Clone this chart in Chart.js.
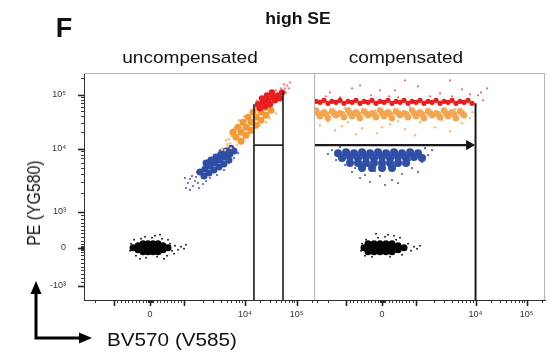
<!DOCTYPE html>
<html><head><meta charset="utf-8">
<script src="https://cdn.jsdelivr.net/npm/chart.js@4.4.1/dist/chart.umd.min.js"></script>
<style>
html,body{margin:0;padding:0;background:#fff;}
#wrap{position:relative;width:552px;height:354px;overflow:hidden;font-family:"Liberation Sans",Arial,sans-serif;color:#111;}
canvas{position:absolute;top:0;}
#c1{left:0;} #c2{left:314px;}
.t{position:absolute;white-space:nowrap;line-height:1;}
svg{position:absolute;left:0;top:0;}
</style></head><body><div id="wrap">
<svg width="552" height="354">
<path d="M36 339 V292 M34.5 338 H80" stroke="#000" stroke-width="3" fill="none"/>
<polygon points="36,281 30.5,294 41.5,294" fill="#000"/>
<polygon points="92,338 79,332.5 79,343.5" fill="#000"/>
</svg>
<canvas id="c1" width="314" height="354"></canvas>
<canvas id="c2" width="238" height="354"></canvas>
<div class="t" style="left:64px;top:28px;font-size:27px;font-weight:bold;transform:translate(-50%,-50%)">F</div>
<div class="t" style="left:298px;top:19px;font-size:16px;font-weight:bold;transform:translate(-50%,-50%) scaleX(1.1)">high SE</div>
<div class="t" style="left:190px;top:57px;font-size:17px;transform:translate(-50%,-50%) scaleX(1.12)">uncompensated</div>
<div class="t" style="left:406px;top:57px;font-size:17px;transform:translate(-50%,-50%) scaleX(1.12)">compensated</div>
<div class="t" style="left:172px;top:340px;font-size:18px;transform:translate(-50%,-50%) scaleX(1.15)">BV570 (V585)</div>
<div class="t" style="left:34px;top:203px;font-size:18px;transform:translate(-50%,-50%) rotate(-90deg) scaleX(0.88)">PE (YG580)</div>
</div>
<script>
// ---------- tick values and labels ----------
const TICK_VALUES = [-3000,-2000,-1000,-900,-800,-700,-600,-500,-400,-300,-200,-100,-50,-25,0,25,50,100,200,300,400,500,600,700,800,900,1000,2000,3000,4000,5000,6000,7000,8000,9000,10000,20000,30000,40000,50000,60000,70000,80000,90000,100000,200000];
const MAJOR_TICKS = [-1000, 0, 1000, 10000, 100000];
const X_TICK_LABELS = ['', '0', '', '10\u2074', '10\u2075'];
const Y_TICK_LABELS = ['-10\u00b3', '0', '10\u00b3', '10\u2074', '10\u2075'];

// ---------- uncompensated panel (BV570, PE) ----------
const LEFT_NEG_CORE = [[-469,0],[-331,55],[-331,-52],[-193,110],[-193,0],[-193,-105],[-55,110],[-55,0],[-55,-105],[87,110],[87,0],[87,-105],[232,110],[232,0],[232,-105],[377,55],[377,-52],[522,0]];
const LEFT_NEG_SPARSE = [[-525,110],[-552,-79],[-442,221],[-387,-210],[-249,249],[-110,-263],[58,276],[203,-237],[348,249],[493,-210],[580,110],[638,-79],[725,55],[812,-52],[899,28],[986,-26],[290,359],[145,331],[-138,304],[522,221],[696,-158],[-276,-289],[406,-289],[1058,83]];
const LEFT_BLUE_CORE = [[1806,4246],[2185,4737],[2644,5285],[3200,5894],[3872,6570],[4686,7327],[5670,8180],[6607,9120],[2103,3674],[2545,4096],[3076,4570],[3728,5093],[4508,5675],[5455,6570],[2270,5894],[2746,6570],[3322,7327],[4023,8180],[4870,9120],[5890,10190]];
const LEFT_BLUE_SPARSE = [[1143,2849],[1058,2374],[1233,3294],[1383,2555],[1493,3062],[1331,3674],[1673,2849],[1019,3418],[1610,4246],[1233,2210],[1738,2374],[1550,3541],[7130,9454],[7690,8470],[6607,7065],[5455,5894],[4508,4570],[3453,3810],[2644,3418],[2270,3062],[2025,2746],[3872,9454],[3076,7880],[2449,6570],[5670,10190],[4686,9120],[6120,11090]];
const LEFT_ORANGE_CORE = [[7130,16240],[8630,20080],[10510,24830],[13140,30700],[16400,37950],[20480,46900],[25590,57970],[6360,20080],[7690,24830],[9316,30700],[11500,37950],[14360,46900],[17920,57970],[8630,13720],[10510,17700],[13140,21900],[16400,27000],[20480,33400],[25590,41300],[31980,51000]];
const LEFT_ORANGE_SPARSE = [[4686,9454],[5257,11090],[4180,10190],[5670,12610],[4870,14300],[6120,16950],[5455,14930],[6863,20960],[7411,11600],[9680,15580],[12020,19260],[15000,23800],[19590,27000],[25590,30700],[30560,36370],[5890,10190],[5058,12080],[6607,23800],[39920,44970],[33420,63100],[7990,33400],[9680,39560]];
const LEFT_RED_CORE = [[17920,65900],[22390,71620],[27970,78000],[34940,88500],[43630,96600],[52140,109500],[19590,55560],[24470,60500],[30560,65900],[38170,78000],[47670,84950],[21410,84950],[26750,96600],[33420,109500]];
const LEFT_RED_SPARSE = [[59550,129800],[65160,147000],[74400,167500],[62370,109500],[57000,153800],[15690,51000],[17140,78000],[39920,119000],[49880,129800],[71220,129800]];
const LEFT_GATE_LOW = [[15000,-1650],[15000,65900]];
const LEFT_GATE_HIGH = [[54600,-1650],[54600,114300]];
const LEFT_GATE_BAR = [[15000,11600],[54600,11600]];

// ---------- compensated panel ----------
const RIGHT_RED_CORE = [[-3055,74800],[-2636,71620],[-2276,78000],[-1965,68740],[-1695,74800],[-1463,71620],[-1261,78000],[-1089,68740],[-952,74800],[-840,71620],[-729,78000],[-616,68740],[-504,74800],[-392,71620],[-280,78000],[-168,68740],[-56,74800],[59,71620],[176,78000],[294,68740],[412,74800],[529,71620],[647,78000],[765,68740],[882,74800],[1000,71620],[1168,78000],[1363,68740],[1591,74800],[1858,71620],[2168,78000],[2531,68740],[2955,74800],[3450,71620],[4028,78000],[4700,68740],[5488,74800],[6407,71620],[7480,78000],[8730,68740]];
const RIGHT_RED_SPARSE = [[-1823,109500],[-840,129800],[-308,96600],[382,119000],[1081,141200],[2531,104900],[5930,124400],[11200,96600],[14030,78000],[12820,109500],[-2115,92500],[206,92500],[1719,92500],[8076,100600],[-616,147000],[3728,182300],[676,182300],[16800,129800],[-1261,88500],[471,88500],[4028,92500],[-56,119000]];
const RIGHT_ORANGE_CORE = [[-3055,51000],[-2276,46900],[-1695,48950],[-1261,44970],[-952,51000],[-729,46900],[-504,48950],[-280,44970],[-56,51000],[176,46900],[412,48950],[647,44970],[882,51000],[1168,46900],[1591,48950],[2168,44970],[2955,51000],[4028,46900],[5488,48950],[-2636,39560],[-1965,36370],[-1463,41300],[-1089,37950],[-840,39560],[-616,36370],[-392,41300],[-168,37950],[59,39560],[294,36370],[529,41300],[765,37950],[1000,39560],[1363,36370],[1858,41300],[2531,37950],[3450,39560],[4700,36370],[6407,41300],[-2836,44970],[-2115,43130],[-1575,44970],[-1171,43130],[-896,44970],[-672,43130],[-448,44970],[-224,43130],[0,44970],[235,43130],[471,44970],[706,43130],[941,44970],[1261,43130],[1719,44970],[2342,43130],[3192,44970],[4354,43130],[5930,44970]];
const RIGHT_ORANGE_SPARSE = [[-2636,27000],[-1516,21900],[-952,30700],[-560,23800],[-140,19260],[235,28200],[676,22800],[1168,30700],[2086,24830],[3728,20960],[5930,29400],[8076,36370],[8840,46900],[-1965,32000],[-729,18450],[471,32000],[2735,33400],[971,17700],[0,24830],[-1171,25900],[-1049,55560],[-196,51000],[824,57970],[4523,53300]];
const RIGHT_BLUE_CORE = [[-1357,8470],[-1011,8790],[-784,8470],[-560,8790],[-336,8470],[-112,8790],[118,8470],[353,8790],[588,8470],[824,8790],[1081,8470],[-1171,7065],[-896,7327],[-672,7065],[-448,7327],[-224,7065],[0,7327],[235,7065],[471,7327],[706,7065],[941,7327],[1261,7065],[-896,5894],[-672,5894],[-448,5894],[-224,5894],[0,5894],[235,5894],[471,5894],[706,5894],[-560,4911],[-280,4911],[0,4911],[294,4911]];
const RIGHT_BLUE_SPARSE = [[-1695,9454],[-1965,8180],[-1463,6570],[-1049,5480],[-840,4246],[-616,3418],[-336,2953],[-56,3674],[294,3175],[588,3955],[882,4911],[1261,6107],[1591,7880],[1858,9454],[1417,10190],[-1261,10640],[-476,3810],[471,2849],[88,2650],[824,6570],[-196,4407],[382,5285],[-756,4911],[1081,4246]];
const RIGHT_NEG_CORE = [[-504,0],[-392,110],[-392,0],[-392,-105],[-224,110],[-224,0],[-224,-105],[-56,110],[-56,0],[-56,-105],[118,110],[118,0],[118,-105],[294,110],[294,0],[294,-105],[471,55],[471,-52],[647,0]];
const RIGHT_NEG_SPARSE = [[-560,110],[-588,-79],[-448,221],[-280,-237],[-112,276],[88,304],[235,-237],[412,221],[588,-184],[765,110],[853,-79],[941,28],[1039,-26],[-168,387],[176,359],[353,331],[-476,-210],[529,276],[1168,55]];
const RIGHT_GATE = [[10000,-1650],[10000,68740]];
const RIGHT_ARROW = [[-3290,11600],[9000,11600]];
const RIGHT_ARROW_HEAD = [[7800,11600]];

// ---------- biexponential-like display scale ----------
function uPos(v){ if(v<=1000) return v/1000; if(v<=10000) return 1+1.75*Math.log10(v/1000); return 2.75+1.5*Math.log10(v/10000); }
function T(v){ return v>=0 ? uPos(v) : -1.05*uPos(-v); }
class BiexScale extends Chart.LinearScale {
  determineDataLimits(){ this.min = T(this.options.min); this.max = T(this.options.max); }
  buildTicks(){
    return TICK_VALUES.filter(v => { const u = T(v); return u >= this.min - 1e-9 && u <= this.max + 1e-9; })
      .map(v => ({value: v, major: MAJOR_TICKS.includes(v)}));
  }
  _calculatePadding(){ this.paddingLeft = 0; this.paddingRight = 0; this.paddingTop = 0; this.paddingBottom = 0; }
  getPixelForValue(v){ return this.getPixelForDecimal((T(v) - this.min) / (this.max - this.min)); }
  getValueForPixel(p){ return 0; }
}
BiexScale.id = 'biex';
BiexScale.defaults = Chart.LinearScale.defaults;
Chart.register(BiexScale);

Chart.defaults.font.family = '"Liberation Sans", Arial, sans-serif';

const framePlugin = {
  id: 'frame',
  afterDraw(chart){
    const ctx = chart.ctx, a = chart.chartArea, isLeft = chart.canvas.id === 'c1';
    ctx.save();
    ctx.strokeStyle = '#b5b5b5'; ctx.lineWidth = 1;
    ctx.beginPath();
    ctx.moveTo(a.left, a.top + 0.5); ctx.lineTo(a.right, a.top + 0.5);
    if (!isLeft) { ctx.moveTo(a.right - 0.5, a.top); ctx.lineTo(a.right - 0.5, a.bottom); ctx.moveTo(a.left + 0.5, a.top); ctx.lineTo(a.left + 0.5, a.bottom); }
    ctx.stroke();
    ctx.strokeStyle = '#222';
    const scales = [chart.scales.x]; if (isLeft) scales.push(chart.scales.y);
    for (const s of scales) {
      for (const t of s.ticks) {
        const p = Math.round(s.getPixelForValue(t.value)) + 0.5;
        const len = t.major ? 6 : 3;
        ctx.lineWidth = t.major ? 1.6 : 0.9;
        ctx.beginPath();
        if (s.axis === 'x') { ctx.moveTo(p, a.bottom); ctx.lineTo(p, a.bottom + len); }
        else { ctx.moveTo(a.left, p); ctx.lineTo(a.left - len, p); }
        ctx.stroke();
      }
    }
    ctx.restore();
  }
};

function pts(data, color, r, order){ return {data, backgroundColor: color, borderWidth: 0, pointRadius: r, pointHoverRadius: r, showLine: false, order}; }
function line(data, w, order){ return {data, borderColor: '#1a1a1a', borderWidth: w, pointRadius: 0, showLine: true, order}; }

function makeOptions(xmin, xmax, showY, padRight){
  return {
    responsive: false, animation: false, events: [],
    layout: {autoPadding: false, padding: {top: 73, right: padRight, bottom: 0, left: 0}},
    plugins: {legend: {display: false}, tooltip: {enabled: false}},
    scales: {
      x: {type: 'biex', min: xmin, max: xmax,
          afterFit: s => { s.height = 54; },
          grid: {display: true, drawOnChartArea: false, drawTicks: false},
          border: {display: true, color: '#333', width: 1},
          ticks: {autoSkip: false, maxRotation: 0, padding: 9, color: '#333', font: {size: 9},
                  callback: v => { const i = MAJOR_TICKS.indexOf(v); return i >= 0 ? X_TICK_LABELS[i] : ''; }}},
      y: {type: 'biex', min: -1650, max: 250000, display: showY,
          afterFit: s => { s.width = showY ? 84 : 0; },
          grid: {display: true, drawOnChartArea: false, drawTicks: false},
          border: {display: true, color: '#333', width: 1},
          ticks: {autoSkip: false, padding: 18, color: '#333', font: {size: 9},
                  callback: v => { const i = MAJOR_TICKS.indexOf(v); return i >= 0 ? Y_TICK_LABELS[i] : ''; }}}
    }
  };
}

new Chart(document.getElementById('c1'), {
  type: 'scatter',
  data: {datasets: [
    line(LEFT_GATE_LOW, 1.6, 1), line(LEFT_GATE_HIGH, 1.6, 1), line(LEFT_GATE_BAR, 1.6, 1),
    pts(LEFT_RED_CORE, '#e61e1e', 3.2, 2), pts(LEFT_RED_SPARSE, '#f08a8a', 1.2, 2),
    pts(LEFT_ORANGE_CORE, '#f29a35', 3.5, 3), pts(LEFT_ORANGE_SPARSE, '#f6bd80', 1.2, 3),
    pts(LEFT_BLUE_CORE, '#2f4ea6', 3.5, 4), pts(LEFT_BLUE_SPARSE, '#4e66b4', 1.1, 4),
    pts(LEFT_NEG_CORE, '#050505', 3.5, 5), pts(LEFT_NEG_SPARSE, '#222', 1, 5)
  ]},
  options: makeOptions(-2950, 217000, true, 0),
  plugins: [framePlugin]
});

new Chart(document.getElementById('c2'), {
  type: 'scatter',
  data: {datasets: [
    line(RIGHT_GATE, 2, 1), line(RIGHT_ARROW, 2.2, 1),
    {data: RIGHT_ARROW_HEAD, backgroundColor: '#111', borderWidth: 0, pointStyle: 'triangle', rotation: 90, pointRadius: 6, showLine: false, order: 1},
    pts(RIGHT_RED_CORE, '#e61e1e', 2.6, 2), pts(RIGHT_RED_SPARSE, '#ef7070', 1.1, 2),
    pts(RIGHT_ORANGE_CORE, '#f4a550', 3.2, 3), pts(RIGHT_ORANGE_SPARSE, '#f6bd80', 1.2, 3),
    pts(RIGHT_BLUE_CORE, '#2f4ea6', 4, 4), pts(RIGHT_BLUE_SPARSE, '#4e66b4', 1.1, 4),
    pts(RIGHT_NEG_CORE, '#050505', 3.5, 5), pts(RIGHT_NEG_SPARSE, '#222', 1, 5)
  ]},
  options: makeOptions(-3290, 230000, false, 7),
  plugins: [framePlugin]
});
</script>
</body></html>
